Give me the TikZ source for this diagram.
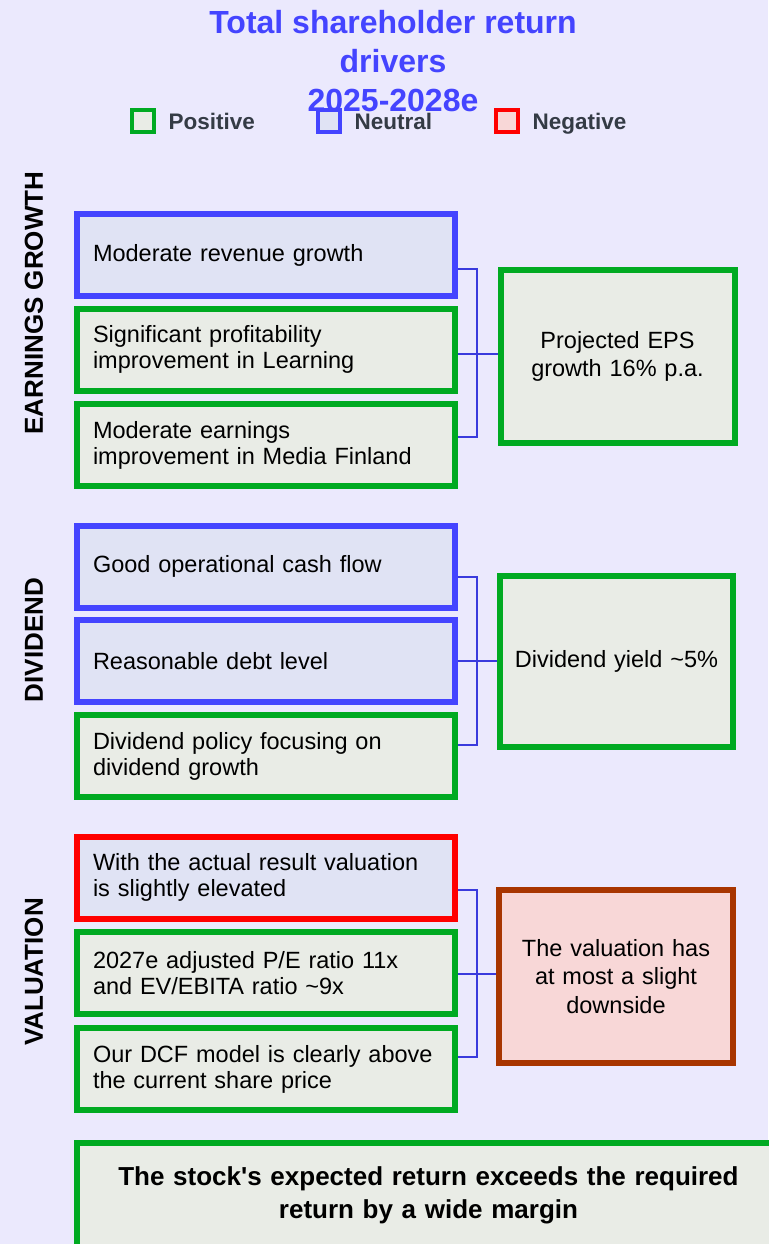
\documentclass[tikz,border=0pt]{standalone}
\usepackage{fontspec}
\setmainfont{Liberation Sans}
\usepackage{xcolor}
\usepackage{tikz}

\begin{document}
\begin{tikzpicture}[x = 1pt,
                    y = -1pt,
                    scale = 1]

  % COLORS
  \definecolor{bgcolor}{HTML}{EBE9FD}
  \definecolor{titlecolor}{HTML}{4444FF}
  \definecolor{legendcolor}{HTML}{343B45}
  \definecolor{poscolor}{HTML}{00AA22}
  \definecolor{posfill}{HTML}{E9ECE6}
  \definecolor{neucolor}{HTML}{4444FF}
  \definecolor{neufill}{HTML}{E0E3F4}
  \definecolor{negcolor}{HTML}{FF0000}
  \definecolor{negfill}{HTML}{F8D7D7}
  \definecolor{downcolor}{HTML}{A83500}
  \definecolor{linkcolor}{HTML}{3A3ADD}

  % STYLES
  \tikzstyle{driverstyle} = [draw, line width=6pt, minimum width=378pt, minimum height=82pt, inner xsep=16pt, text width=346pt, align=left, font=\fontsize{23.5}{26}\selectfont]
  \tikzstyle{resultstyle} = [draw, line width=6pt, minimum width=234pt, minimum height=173pt, text width=215pt, align=center, font=\fontsize{23.5}{28.5}\selectfont]
  \tikzstyle{style_pos} = [draw=poscolor, fill=posfill]
  \tikzstyle{style_neu} = [draw=neucolor, fill=neufill]
  \tikzstyle{style_neg} = [draw=negcolor, fill=neufill]
  \tikzstyle{sectionstyle} = [rotate=90, font=\bfseries\fontsize{26}{26}\selectfont]
  \tikzstyle{legendbox} = [draw, line width=4pt, minimum size=22pt, inner sep=0pt]
  \tikzstyle{legendtext} = [anchor=base west, text=legendcolor, font=\bfseries\fontsize{22.5}{22.5}\selectfont]
  \tikzstyle{linkstyle} = [draw=linkcolor, line width=2pt]

  % BACKGROUND
  \fill[bgcolor] (0,0) rectangle (768,1244);
  \useasboundingbox (0,0) rectangle (768,1244);

  % TITLE
  \node[text=titlecolor, align=center, font=\bfseries\fontsize{32}{39}\selectfont] (title) at (393,61)
    {Total shareholder return\\drivers\\2025-2028e};

  % LEGEND
  \node[legendbox, style_pos] (lg_pos) at (143,121) {};
  \node[legendtext] (lg_pos_t) at (165,129) {Positive};
  \node[legendbox, style_neu] (lg_neu) at (329,121) {};
  \node[legendtext] (lg_neu_t) at (351,129) {Neutral};
  \node[legendbox, draw=negcolor, fill=negfill] (lg_neg) at (507,121) {};
  \node[legendtext] (lg_neg_t) at (529,129) {Negative};

  % EARNINGS GROWTH
  \node[sectionstyle] (sec_eg) at (34,303) {EARNINGS GROWTH};
  \node[driverstyle, style_neu] (eg1) at (266,255) {Moderate revenue growth};
  \node[driverstyle, style_pos] (eg2) at (266,349.5) {Significant profitability\\improvement in Learning};
  \node[driverstyle, style_pos] (eg3) at (266,445) {Moderate earnings\\improvement in Media Finland};
  \node[resultstyle, style_pos] (eg_res) at (617.5,356.5) {Projected EPS\\growth 16\% p.a.};

  \coordinate (eg_top) at (477,269);
  \coordinate (eg_mid) at (477,354);
  \coordinate (eg_bot) at (477,437);
  \draw[linkstyle] (eg1.east |- eg_top) -- (eg_top) -- (eg_bot) -- (eg3.east |- eg_bot);
  \draw[linkstyle] (eg2.east |- eg_mid) -- (eg_res.west |- eg_mid);

  % DIVIDEND
  \node[sectionstyle] (sec_div) at (34,640) {DIVIDEND};
  \node[driverstyle, style_neu] (div1) at (266,566.5) {Good operational cash flow};
  \node[driverstyle, style_neu] (div2) at (266,661) {Reasonable debt level};
  \node[driverstyle, style_pos] (div3) at (266,756) {Dividend policy focusing on\\dividend growth};
  \node[resultstyle, style_pos, minimum width=233pt, minimum height=171pt] (div_res) at (616.5,661.5) {Dividend yield \textasciitilde5\%};

  \coordinate (div_top) at (477,577);
  \coordinate (div_mid) at (477,661);
  \coordinate (div_bot) at (477,745);
  \draw[linkstyle] (div1.east |- div_top) -- (div_top) -- (div_bot) -- (div3.east |- div_bot);
  \draw[linkstyle] (div2.east |- div_mid) -- (div_res.west |- div_mid);

  % VALUATION
  \node[sectionstyle] (sec_val) at (34,972) {VALUATION};
  \node[driverstyle, style_neg] (val1) at (266,877.5) {With the actual result valuation\\is slightly elevated};
  \node[driverstyle, style_pos] (val2) at (266,973) {2027e adjusted P/E ratio 11x\\and EV/EBITA ratio \textasciitilde9x};
  \node[driverstyle, style_pos] (val3) at (266,1069) {Our DCF model is clearly above\\the current share price};
  \node[resultstyle, draw=downcolor, fill=negfill] (val_res) at (616,976.5) {The valuation has\\at most a slight\\downside};

  \coordinate (val_top) at (477,890);
  \coordinate (val_mid) at (477,974);
  \coordinate (val_bot) at (477,1057);
  \draw[linkstyle] (val1.east |- val_top) -- (val_top) -- (val_bot) -- (val3.east |- val_bot);
  \draw[linkstyle] (val2.east |- val_mid) -- (val_res.west |- val_mid);

  % CONCLUSION
  \node[draw=poscolor, fill=posfill, line width=6pt, minimum width=703pt, minimum height=104pt, text width=670pt, align=center, font=\bfseries\fontsize{26}{33}\selectfont] (total) at (428.5,1195)
    {The stock\textquotesingle s expected return exceeds the required\\return by a wide margin};

\end{tikzpicture}
\end{document}
